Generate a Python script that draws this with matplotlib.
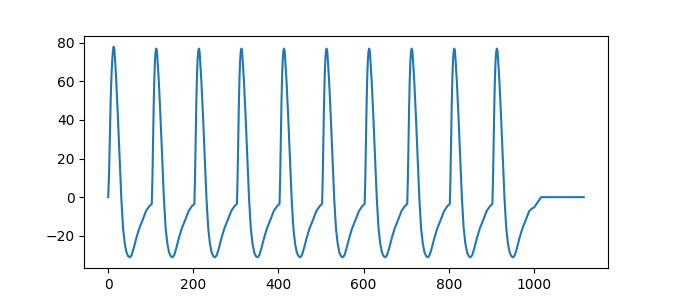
import matplotlib
matplotlib.use("Agg")
import matplotlib.pyplot as plt

# membrane trace, one row per spike (time, value)
spike_t = [
    [0, 2, 4, 6, 8, 10, 11.5, 13, 14.5, 16, 19, 23, 27, 31, 35, 39, 43, 47, 51, 55, 60, 66, 73, 81, 89, 97],
    [102.5, 104, 105.5, 107, 108.5, 110, 111.5, 113, 114.5, 116, 119, 123, 127, 131, 135, 139, 143, 147, 151, 155, 160, 166, 173, 181, 189, 197],
    [202.5, 204, 205.5, 207, 208.5, 210, 211.5, 213, 214.5, 216, 219, 223, 227, 231, 235, 239, 243, 247, 251, 255, 260, 266, 273, 281, 289, 297],
    [302.5, 304, 305.5, 307, 308.5, 310, 311.5, 313, 314.5, 316, 319, 323, 327, 331, 335, 339, 343, 347, 351, 355, 360, 366, 373, 381, 389, 397],
    [402.5, 404, 405.5, 407, 408.5, 410, 411.5, 413, 414.5, 416, 419, 423, 427, 431, 435, 439, 443, 447, 451, 455, 460, 466, 473, 481, 489, 497],
    [502.5, 504, 505.5, 507, 508.5, 510, 511.5, 513, 514.5, 516, 519, 523, 527, 531, 535, 539, 543, 547, 551, 555, 560, 566, 573, 581, 589, 597],
    [602.5, 604, 605.5, 607, 608.5, 610, 611.5, 613, 614.5, 616, 619, 623, 627, 631, 635, 639, 643, 647, 651, 655, 660, 666, 673, 681, 689, 697],
    [702.5, 704, 705.5, 707, 708.5, 710, 711.5, 713, 714.5, 716, 719, 723, 727, 731, 735, 739, 743, 747, 751, 755, 760, 766, 773, 781, 789, 797],
    [802.5, 804, 805.5, 807, 808.5, 810, 811.5, 813, 814.5, 816, 819, 823, 827, 831, 835, 839, 843, 847, 851, 855, 860, 866, 873, 881, 889, 897],
    [902.5, 904, 905.5, 907, 908.5, 910, 911.5, 913, 914.5, 916, 919, 923, 927, 931, 935, 939, 943, 947, 951, 955, 960, 966, 973, 981, 989],
]
spike_v = [
    [0, 11, 32, 51, 64, 72.5, 76.5, 78, 76.8, 72, 60.5, 41, 20, -1, -16, -24, -28.6, -30.6, -31.2, -30.1, -26.5, -21.3, -16.2, -11.8, -7.2, -4.6],
    [-3.5, 10, 30, 48, 62, 71, 75.5, 77, 75.8, 71, 60, 41, 20, -1, -16, -24, -28.6, -30.6, -31.2, -30.1, -26.5, -21.3, -16.2, -11.8, -7.2, -4.6],
    [-3.5, 10, 30, 48, 62, 71, 75.5, 77, 75.8, 71, 60, 41, 20, -1, -16, -24, -28.6, -30.6, -31.2, -30.1, -26.5, -21.3, -16.2, -11.8, -7.2, -4.6],
    [-3.5, 10, 30, 48, 62, 71, 75.5, 77, 75.8, 71, 60, 41, 20, -1, -16, -24, -28.6, -30.6, -31.2, -30.1, -26.5, -21.3, -16.2, -11.8, -7.2, -4.6],
    [-3.5, 10, 30, 48, 62, 71, 75.5, 77, 75.8, 71, 60, 41, 20, -1, -16, -24, -28.6, -30.6, -31.2, -30.1, -26.5, -21.3, -16.2, -11.8, -7.2, -4.6],
    [-3.5, 10, 30, 48, 62, 71, 75.5, 77, 75.8, 71, 60, 41, 20, -1, -16, -24, -28.6, -30.6, -31.2, -30.1, -26.5, -21.3, -16.2, -11.8, -7.2, -4.6],
    [-3.5, 10, 30, 48, 62, 71, 75.5, 77, 75.8, 71, 60, 41, 20, -1, -16, -24, -28.6, -30.6, -31.2, -30.1, -26.5, -21.3, -16.2, -11.8, -7.2, -4.6],
    [-3.5, 10, 30, 48, 62, 71, 75.5, 77, 75.8, 71, 60, 41, 20, -1, -16, -24, -28.6, -30.6, -31.2, -30.1, -26.5, -21.3, -16.2, -11.8, -7.2, -4.6],
    [-3.5, 10, 30, 48, 62, 71, 75.5, 77, 75.8, 71, 60, 41, 20, -1, -16, -24, -28.6, -30.6, -31.2, -30.1, -26.5, -21.3, -16.2, -11.8, -7.2, -4.6],
    [-3.5, 10, 30, 48, 62, 71, 75.5, 77, 75.8, 71, 60, 41, 20, -1, -16, -24, -28.6, -30.6, -31.2, -30.1, -26.5, -21.3, -16.2, -11.8, -7.2],
]
# after the last spike: recovery and flat rest
tail_t = [995, 1001, 1017, 1117]
tail_v = [-6.0, -5.2, 0, 0]


def build():
    t = []
    v = []
    for ts, vs in zip(spike_t, spike_v):
        t += ts
        v += vs
    t += tail_t
    v += tail_v
    return t, v


if __name__ == "__main__":
    t, v = build()
    fig = plt.figure(figsize=(6.75, 3.01), dpi=100)
    ax = fig.add_subplot(111)
    ax.plot(t, v)
    fig.savefig("out.png", dpi=100)
